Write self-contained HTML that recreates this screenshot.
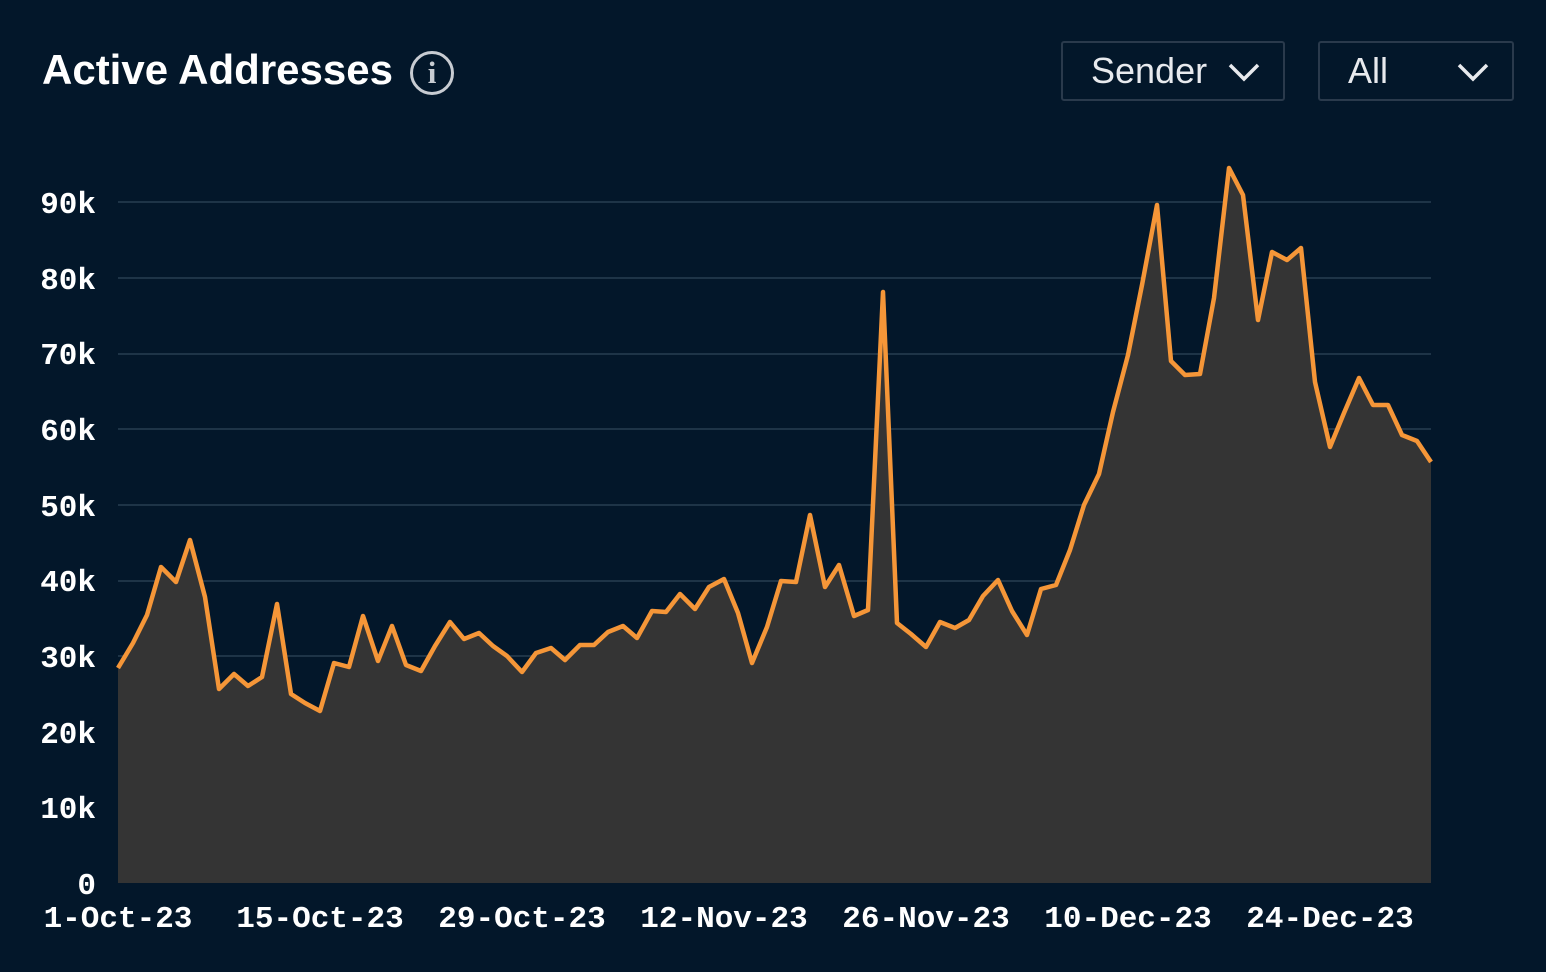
<!DOCTYPE html>
<html><head><meta charset="utf-8"><style>
html,body{margin:0;padding:0;background:#03172a;}
body{width:1546px;height:972px;position:relative;overflow:hidden;font-family:"Liberation Sans",sans-serif;}
.title{position:absolute;left:42px;top:46px;color:#fff;font-size:42px;font-weight:bold;}
.info{position:absolute;left:410px;top:51px;width:44px;height:44px;border:3px solid #c8ccd2;border-radius:50%;box-sizing:border-box;color:#c8ccd2;font-size:31px;font-weight:bold;text-align:center;line-height:38px;font-family:"Liberation Serif",serif;}
.dd{position:absolute;top:41px;height:60px;border:2px solid #2a3a4c;box-sizing:border-box;border-radius:3px;color:#e8eaee;font-size:36px;line-height:56px;padding-left:28px;overflow:hidden;white-space:nowrap;}
.dd svg{position:absolute;top:18px;}
</style></head><body>
<div class="title">Active Addresses</div>
<div class="info">i</div>
<div class="dd" style="left:1061px;width:224px;"><span style="display:inline-block;width:122px;overflow:hidden;vertical-align:top">Sender</span><svg style="left:164px" width="34" height="22"><polyline points="3,4 17,18 31,4" fill="none" stroke="#e8eaee" stroke-width="3.5"/></svg></div>
<div class="dd" style="left:1318px;width:196px;">All<svg style="left:136px" width="34" height="22"><polyline points="3,4 17,18 31,4" fill="none" stroke="#e8eaee" stroke-width="3.5"/></svg></div>
<svg width="1546" height="972" style="position:absolute;left:0;top:0">
<g stroke="#1e3447" stroke-width="2">
<line x1="118" x2="1431" y1="202" y2="202"/><line x1="118" x2="1431" y1="278" y2="278"/><line x1="118" x2="1431" y1="354" y2="354"/><line x1="118" x2="1431" y1="429" y2="429"/><line x1="118" x2="1431" y1="505" y2="505"/><line x1="118" x2="1431" y1="581" y2="581"/><line x1="118" x2="1431" y1="656" y2="656"/><line x1="118" x2="1431" y1="732" y2="732"/><line x1="118" x2="1431" y1="808" y2="808"/>
</g>
<polygon fill="#343434" points="118,883 118,668 133,643 147,615 161,567 176,582 190,540 205,597 219,689 234,674 248,686 262,677 277,604 291,694 305,703 320,711 334,663 349,667 363,616 378,661 392,626 406,665 421,671 435,646 450,622 464,639 479,633 493,646 507,656 522,672 536,653 551,648 565,660 580,645 594,645 608,632 623,626 637,638 652,611 666,612 680,594 695,609 709,587 724,579 738,613 752,663 767,627 781,581 796,582 810,515 825,587 839,565 854,616 868,610 883,292 897,623 911,634 926,647 940,622 955,628 969,620 983,596 998,580 1012,611 1027,635 1041,589 1056,585 1070,550 1084,505 1099,474 1113,412 1128,355 1142,285 1157,205 1171,361 1185,375 1200,374 1214,298 1229,168 1243,195 1258,320 1272,252 1287,260 1301,248 1315,382 1330,447 1344,413 1359,378 1373,405 1388,405 1402,435 1417,441 1431,462 1431,883"/>
<polyline fill="none" stroke="#f59638" stroke-width="4.5" stroke-linejoin="round" points="118,668 133,643 147,615 161,567 176,582 190,540 205,597 219,689 234,674 248,686 262,677 277,604 291,694 305,703 320,711 334,663 349,667 363,616 378,661 392,626 406,665 421,671 435,646 450,622 464,639 479,633 493,646 507,656 522,672 536,653 551,648 565,660 580,645 594,645 608,632 623,626 637,638 652,611 666,612 680,594 695,609 709,587 724,579 738,613 752,663 767,627 781,581 796,582 810,515 825,587 839,565 854,616 868,610 883,292 897,623 911,634 926,647 940,622 955,628 969,620 983,596 998,580 1012,611 1027,635 1041,589 1056,585 1070,550 1084,505 1099,474 1113,412 1128,355 1142,285 1157,205 1171,361 1185,375 1200,374 1214,298 1229,168 1243,195 1258,320 1272,252 1287,260 1301,248 1315,382 1330,447 1344,413 1359,378 1373,405 1388,405 1402,435 1417,441 1431,462"/>
<g fill="#ffffff" font-family="Liberation Mono, monospace" font-weight="bold" font-size="31">
<g text-anchor="end">
<text x="96" y="213">90k</text><text x="96" y="289">80k</text><text x="96" y="364">70k</text><text x="96" y="440">60k</text><text x="96" y="516">50k</text><text x="96" y="591">40k</text><text x="96" y="667">30k</text><text x="96" y="743">20k</text><text x="96" y="818">10k</text><text x="96" y="894">0</text>
</g>
<g text-anchor="middle">
<text x="118" y="927">1-Oct-23</text><text x="320" y="927">15-Oct-23</text><text x="522" y="927">29-Oct-23</text><text x="724" y="927">12-Nov-23</text><text x="926" y="927">26-Nov-23</text><text x="1128" y="927">10-Dec-23</text><text x="1330" y="927">24-Dec-23</text>
</g>
</g>
</svg>
</body></html>
